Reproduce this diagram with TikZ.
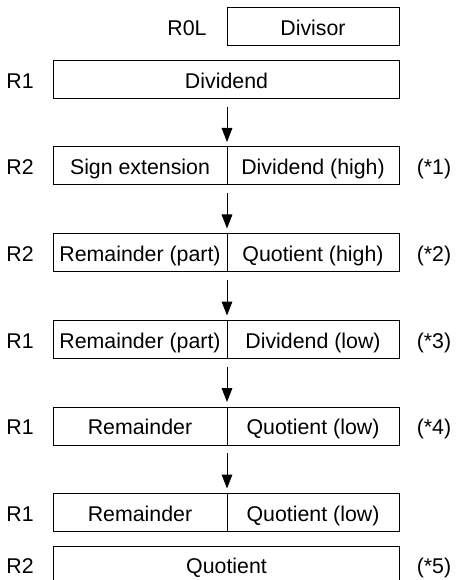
\documentclass[tikz,border=0pt]{standalone}
\usepackage{fontspec}
\setmainfont{Liberation Sans}
\usetikzlibrary{arrows.meta, positioning}
\tikzset{
  cell/.style={rectangle, draw=black, line width=0.75pt, outer sep=0pt,
    minimum width=130.5pt, minimum height=28.5pt, inner sep=0pt,
    text height=13pt, text depth=0pt,
    font=\fontsize{16}{19}\selectfont},
  rcell/.style={cell, minimum width=129pt},
  widecell/.style={cell, minimum width=259.5pt},
  reglabel/.style={inner sep=0pt, text height=13pt, text depth=0pt,
    font=\fontsize{16}{19}\selectfont},
  note/.style={reglabel},
  arrow/.style={-{Triangle[length=10.5pt, width=8pt]}, line width=0.75pt,
    shorten <=6pt, shorten >=3.75pt}
}
\begin{document}
\begin{tikzpicture}[x=0.75pt, y=-0.75pt]
  \clip (0,0) rectangle (457,580);

  % Divisor register
  \node[reglabel] (lblROL) at (187,27) {R0L};
  \node[rcell] (divisor) at (313,27) {Divisor};

  % Dividend register
  \node[reglabel] (lblA) at (20,80) {R1};
  \node[widecell] (dividend) at (226.5,80) {Dividend};

  % Step 1: sign extension
  \node[reglabel] (lblB) at (20,166) {R2};
  \node[cell] (sgnext) at (140,166) {Sign extension};
  \node[rcell] (divhigh) at (313,166) {Dividend (high)};
  \node[note] (noteA) at (434,166) {(*1)};

  % Step 2: high part of quotient
  \node[reglabel] (lblC) at (20,252.5) {R2};
  \node[cell] (remA) at (140,252.5) {Remainder (part)};
  \node[rcell] (quohigh) at (313,252.5) {Quotient (high)};
  \node[note] (noteB) at (434,252.5) {(*2)};

  % Step 3: low part of dividend
  \node[reglabel] (lblD) at (20,339.5) {R1};
  \node[cell] (remB) at (140,339.5) {Remainder (part)};
  \node[rcell] (divlow) at (313,339.5) {Dividend (low)};
  \node[note] (noteC) at (434,339.5) {(*3)};

  % Step 4: low part of quotient
  \node[reglabel] (lblE) at (20,426) {R1};
  \node[cell] (remC) at (140,426) {Remainder};
  \node[rcell] (quolow) at (313,426) {Quotient (low)};
  \node[note] (noteD) at (434,426) {(*4)};

  % Result
  \node[reglabel] (lblF) at (20,512.5) {R1};
  \node[cell] (remD) at (140,512.5) {Remainder};
  \node[rcell] (quolowB) at (313,512.5) {Quotient (low)};

  \node[reglabel] (lblG) at (20,565) {R2};
  \node[widecell] (quotient) at (226.5,565) {Quotient};
  \node[note] (noteE) at (434,565) {(*5)};

  % Flow arrows
  \draw[arrow] (dividend.south -| sgnext.east) -- (sgnext.north east);
  \draw[arrow] (sgnext.south east) -- (remA.north east);
  \draw[arrow] (remA.south east) -- (remB.north east);
  \draw[arrow] (remB.south east) -- (remC.north east);
  \draw[arrow] (remC.south east) -- (remD.north east);
\end{tikzpicture}
\end{document}
